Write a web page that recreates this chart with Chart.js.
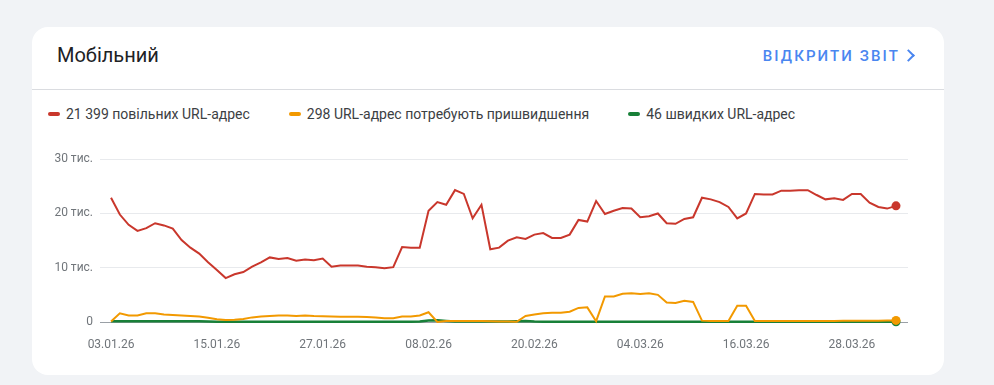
<!DOCTYPE html>
<html>
<head>
<meta charset="utf-8">
<script src="https://cdn.jsdelivr.net/npm/chart.js@4.4.1/dist/chart.umd.min.js"></script>
<style>
  html, body { margin: 0; padding: 0; }
  body { width: 994px; height: 385px; background: #f1f3f6; position: relative; overflow: hidden; font-family: Roboto, "Noto Sans", sans-serif; }
  .card { position: absolute; left: 32px; top: 27px; width: 912px; height: 348px; background: #fff; border-radius: 16px; }
  .title { position: absolute; left: 25px; top: 15px; font-size: 20px; color: #202124; line-height: 26px; }
  .link { position: absolute; right: 44px; top: 19px; font-size: 15px; font-weight: 500; color: #4a86f0; letter-spacing: 2.1px; line-height: 20px; white-space: nowrap; }
  .chev { position: absolute; right: 31px; top: 24px; width: 7px; height: 7px; border-right: 2px solid #4a86f0; border-top: 2px solid #4a86f0; transform: rotate(45deg); }
  .divider { position: absolute; left: 0; right: 0; top: 62px; height: 1px; background: #dadce0; }
  .legend { position: absolute; left: 16px; top: 78px; display: flex; font-size: 14px; color: #3c4043; line-height: 18px; white-space: nowrap; }
  .legend .item { display: flex; align-items: center; margin-right: 39px; }
  .legend .mark { width: 12px; height: 4px; border-radius: 2px; margin-right: 6px; }
  #wrap { position: absolute; left: 40px; top: 145px; width: 880px; height: 215px; }
</style>
</head>
<body>
<div class="card">
  <div class="title">Мобільний</div>
  <div class="link">ВІДКРИТИ ЗВІТ</div>
  <div class="chev"></div>
  <div class="divider"></div>
  <div class="legend" id="legend"></div>
</div>
<div id="wrap"><canvas id="c" width="880" height="215"></canvas></div>
<script>
const dates = [
  "03.01.26","04.01.26","05.01.26","06.01.26","07.01.26","08.01.26","09.01.26","10.01.26","11.01.26","12.01.26",
  "13.01.26","14.01.26","15.01.26","16.01.26","17.01.26","18.01.26","19.01.26","20.01.26","21.01.26","22.01.26",
  "23.01.26","24.01.26","25.01.26","26.01.26","27.01.26","28.01.26","29.01.26","30.01.26","31.01.26","01.02.26",
  "02.02.26","03.02.26","04.02.26","05.02.26","06.02.26","07.02.26","08.02.26","09.02.26","10.02.26","11.02.26",
  "12.02.26","13.02.26","14.02.26","15.02.26","16.02.26","17.02.26","18.02.26","19.02.26","20.02.26","21.02.26",
  "22.02.26","23.02.26","24.02.26","25.02.26","26.02.26","27.02.26","28.02.26","01.03.26","02.03.26","03.03.26",
  "04.03.26","05.03.26","06.03.26","07.03.26","08.03.26","09.03.26","10.03.26","11.03.26","12.03.26","13.03.26",
  "14.03.26","15.03.26","16.03.26","17.03.26","18.03.26","19.03.26","20.03.26","21.03.26","22.03.26","23.03.26",
  "24.03.26","25.03.26","26.03.26","27.03.26","28.03.26","29.03.26","30.03.26","31.03.26","01.04.26","02.04.26"
];
const xTickIndexes = [0, 12, 24, 36, 48, 60, 72, 84];
const yTickValues = [0, 10, 20, 30];
const yTickLabels = ["0", "10 тис.", "20 тис.", "30 тис."];
const seriesNames = ["21 399 повільних URL-адрес", "298 URL-адрес потребують пришвидшення", "46 швидких URL-адрес"];
const seriesColors = ["#c9372c", "#f29900", "#188038"];

// values in thousands
const slow = [
  22.9, 19.8, 17.9, 16.8, 17.3, 18.2, 17.8, 17.2, 15.1, 13.7,
  12.6, 11.0, 9.6, 8.1, 8.8, 9.2, 10.2, 11.0, 11.9, 11.6,
  11.8, 11.3, 11.5, 11.4, 11.7, 10.2, 10.4, 10.4, 10.4, 10.2,
  10.1, 9.9, 10.1, 13.8, 13.7, 13.7, 20.5, 22.1, 21.6, 24.3,
  23.6, 19.1, 21.6, 13.4, 13.7, 15.0, 15.6, 15.3, 16.1, 16.4,
  15.5, 15.5, 16.1, 18.8, 18.5, 22.3, 19.9, 20.5, 21.0, 20.9,
  19.3, 19.5, 20.0, 18.2, 18.1, 19.0, 19.3, 22.9, 22.6, 22.1,
  21.2, 19.1, 20.0, 23.6, 23.5, 23.5, 24.2, 24.2, 24.3, 24.3,
  23.4, 22.6, 22.8, 22.5, 23.6, 23.6, 22.0, 21.2, 20.9, 21.399
];
const needsImprovement = [
  0.1, 1.6, 1.2, 1.2, 1.6, 1.6, 1.4, 1.3, 1.2, 1.1,
  1.0, 0.8, 0.5, 0.35, 0.4, 0.55, 0.85, 1.0, 1.1, 1.2,
  1.2, 1.1, 1.2, 1.1, 1.05, 1.0, 0.95, 0.95, 0.95, 0.9,
  0.85, 0.7, 0.7, 1.0, 1.0, 1.2, 1.8, 0.0, 0.2, 0.2,
  0.2, 0.2, 0.2, 0.15, 0.1, 0.1, 0.05, 1.1, 1.4, 1.6,
  1.7, 1.7, 1.9, 2.6, 2.7, 0.15, 4.7, 4.7, 5.2, 5.3,
  5.15, 5.3, 5.0, 3.6, 3.5, 3.9, 3.7, 0.25, 0.2, 0.2,
  0.2, 3.0, 3.0, 0.2, 0.18, 0.18, 0.18, 0.18, 0.18, 0.18,
  0.18, 0.2, 0.2, 0.22, 0.25, 0.25, 0.24, 0.25, 0.28, 0.298
];
const good = [
  0.12, 0.12, 0.12, 0.12, 0.12, 0.12, 0.12, 0.12, 0.12, 0.12,
  0.12, 0.1, 0.06, 0.06, 0.06, 0.06, 0.06, 0.06, 0.06, 0.06,
  0.06, 0.06, 0.06, 0.06, 0.06, 0.06, 0.06, 0.06, 0.06, 0.06,
  0.06, 0.06, 0.06, 0.06, 0.06, 0.1, 0.28, 0.3, 0.2, 0.1,
  0.1, 0.1, 0.1, 0.1, 0.1, 0.1, 0.15, 0.2, 0.1, 0.05,
  0.05, 0.05, 0.05, 0.05, 0.05, 0.05, 0.05, 0.05, 0.05, 0.05,
  0.05, 0.05, 0.05, 0.05, 0.05, 0.05, 0.05, 0.05, 0.05, 0.05,
  0.05, 0.05, 0.05, 0.05, 0.05, 0.05, 0.05, 0.05, 0.05, 0.05,
  0.05, 0.05, 0.05, 0.05, 0.05, 0.05, 0.05, 0.05, 0.05, 0.046
];

// legend
const lg = document.getElementById('legend');
seriesNames.forEach((n, i) => {
  const it = document.createElement('div'); it.className = 'item';
  const m = document.createElement('span'); m.className = 'mark'; m.style.background = seriesColors[i];
  const t = document.createElement('span'); t.textContent = n;
  it.appendChild(m); it.appendChild(t); lg.appendChild(it);
});

const toPts = arr => arr.map((v, i) => ({ x: i, y: v }));
const lastOnly = arr => arr.map((v, i) => i === arr.length - 1 ? 4.5 : 0);

const mk = (arr, i) => ({
  label: seriesNames[i],
  data: toPts(arr),
  borderColor: seriesColors[i],
  backgroundColor: seriesColors[i],
  borderWidth: i === 2 ? 2.5 : 2,
  pointRadius: lastOnly(arr),
  pointHoverRadius: 0,
  pointBorderWidth: 0,
  tension: 0,
  fill: false,
  clip: false
});

new Chart(document.getElementById('c'), {
  type: 'line',
  data: { datasets: [mk(slow, 0), mk(needsImprovement, 1), mk(good, 2)] },
  options: {
    responsive: false,
    animation: false,
    layout: { padding: { top: 12, right: 12, bottom: 0, left: 0 } },
    plugins: { legend: { display: false }, tooltip: { enabled: false } },
    scales: {
      x: {
        type: 'linear',
        min: -1.25,
        max: 90.36,
        afterBuildTicks: s => { s.ticks = xTickIndexes.map(v => ({ value: v })); },
        afterFit: s => { s.height = 38; },
        grid: { display: false, drawTicks: false },
        border: { display: false },
        ticks: {
          autoSkip: false,
          maxRotation: 0,
          padding: 16,
          color: '#70757a',
          font: { family: 'Roboto', size: 12 },
          callback: v => dates[v]
        }
      },
      y: {
        min: 0,
        max: 30,
        afterBuildTicks: s => { s.ticks = yTickValues.map(v => ({ value: v })); },
        afterFit: s => { s.width = 60; },
        grid: {
          drawTicks: false,
          color: c => c.tick && c.tick.value === 0 ? '#9aa0a6' : '#e8eaed',
          lineWidth: 1
        },
        border: { display: false },
        ticks: {
          padding: 7,
          color: '#70757a',
          font: { family: 'Roboto', size: 12 },
          callback: v => yTickLabels[yTickValues.indexOf(v)]
        }
      }
    }
  }
});
</script>
</body>
</html>
